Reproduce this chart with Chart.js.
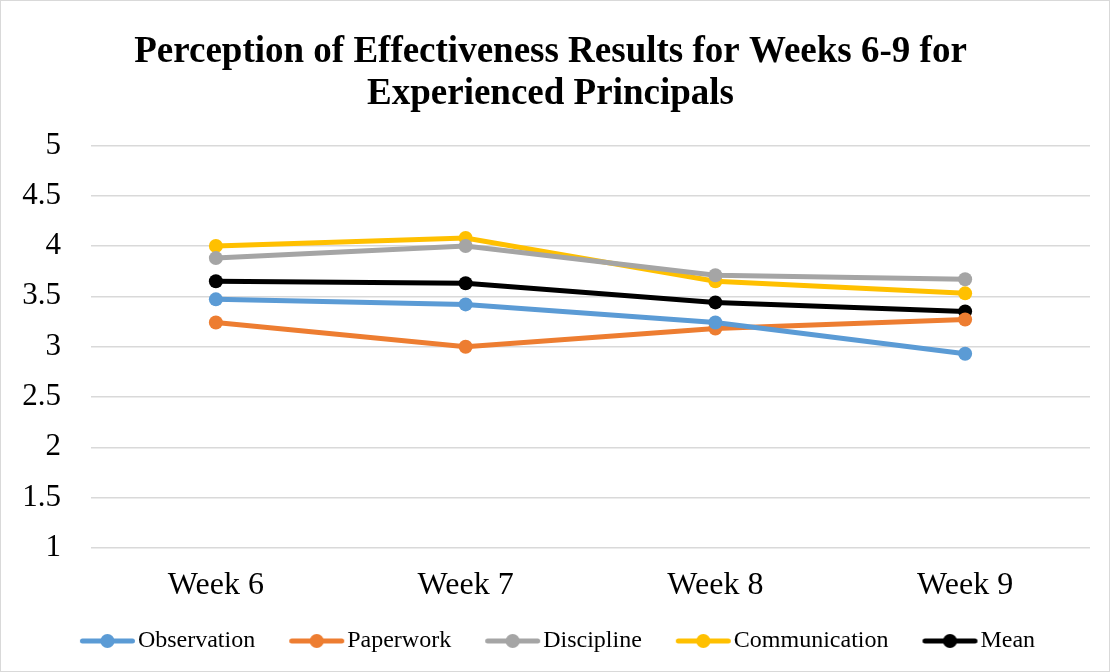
<!DOCTYPE html>
<html>
<head>
<meta charset="utf-8">
<script src="https://cdn.jsdelivr.net/npm/chart.js@4"></script>
<style>
  html, body { margin: 0; padding: 0; background: #fff; }
  #wrap { position: relative; width: 1110px; height: 672px; box-sizing: border-box; border: 1.5px solid #d9d9d9; }
  #chart { display: block; }
</style>
</head>
<body>
<div id="wrap"><canvas id="chart" width="1107" height="669"></canvas></div>
<script>
const weeks = ['Week 6', 'Week 7', 'Week 8', 'Week 9'];
const observation = [3.47, 3.42, 3.24, 2.93];
const paperwork = [3.24, 3.00, 3.18, 3.27];
const discipline = [3.88, 4.00, 3.71, 3.67];
const communication = [4.00, 4.08, 3.65, 3.53];
const mean = [3.65, 3.63, 3.44, 3.35];

const serif = '"Liberation Serif", "Times New Roman", serif';

// legend marker: thick line with a dot, pushed to the right so it sits close to its text
function marker(color) {
    const c = document.createElement('canvas');
    c.width = 80; c.height = 16;
    const g = c.getContext('2d');
    g.strokeStyle = color;
    g.lineWidth = 5;
    g.lineCap = 'round';
    g.beginPath(); g.moveTo(26.5, 8); g.lineTo(76.5, 8); g.stroke();
    g.fillStyle = color;
    g.beginPath(); g.arc(51.5, 8, 7, 0, Math.PI * 2); g.fill();
    return c;
}

function series(label, data, color) {
    return {
        label: label,
        data: data,
        borderColor: color,
        backgroundColor: color,
        borderWidth: 5,
        pointRadius: 7,
        pointHoverRadius: 7,
        pointBorderWidth: 0,
        pointStyle: 'circle',
        tension: 0,
        legendMarker: marker(color)
    };
}

const ctx = document.getElementById('chart');

new Chart(ctx, {
    type: 'line',
    data: {
        labels: weeks,
        datasets: [
            series('Observation', observation, '#5b9bd5'),
            series('Paperwork', paperwork, '#ed7d31'),
            series('Discipline', discipline, '#a5a5a5'),
            series('Communication', communication, '#ffc000'),
            series('Mean', mean, '#000000')
        ]
    },
    options: {
        responsive: false,
        animation: false,
        layout: { padding: { left: 10, right: 18, top: 10, bottom: 7 } },
        plugins: {
            title: {
                display: true,
                text: ['Perception of Effectiveness Results for Weeks 6-9 for', 'Experienced Principals'],
                color: '#000',
                font: { family: serif, size: 37, weight: 'bold', lineHeight: 1.14 },
                padding: { top: 20, bottom: 30 }
            },
            legend: {
                position: 'bottom',
                labels: {
                    usePointStyle: true,
                    pointStyleWidth: 60,
                    color: '#000',
                    font: { family: serif, size: 24 },
                    padding: 20,
                    generateLabels: function (chart) {
                        return chart.data.datasets.map(function (ds, i) {
                            return {
                                text: ds.label,
                                pointStyle: ds.legendMarker,
                                fillStyle: ds.borderColor,
                                strokeStyle: ds.borderColor,
                                lineWidth: 0,
                                datasetIndex: i,
                                hidden: false
                            };
                        });
                    }
                }
            },
            tooltip: { enabled: false }
        },
        scales: {
            x: {
                offset: true,
                afterFit: function (axis) { axis.height = 61; },
                grid: { display: false },
                border: { display: false },
                ticks: { color: '#000', font: { family: serif, size: 32 }, padding: 10 }
            },
            y: {
                min: 1,
                max: 5,
                afterFit: function (axis) { axis.width = 80; },
                ticks: {
                    stepSize: 0.5,
                    color: '#000',
                    font: { family: serif, size: 31 },
                    padding: 30,
                    callback: function (v) { return String(v); }
                },
                grid: { color: '#d9d9d9', lineWidth: 1.5, drawTicks: false },
                border: { display: false }
            }
        }
    }
});
</script>
</body>
</html>
